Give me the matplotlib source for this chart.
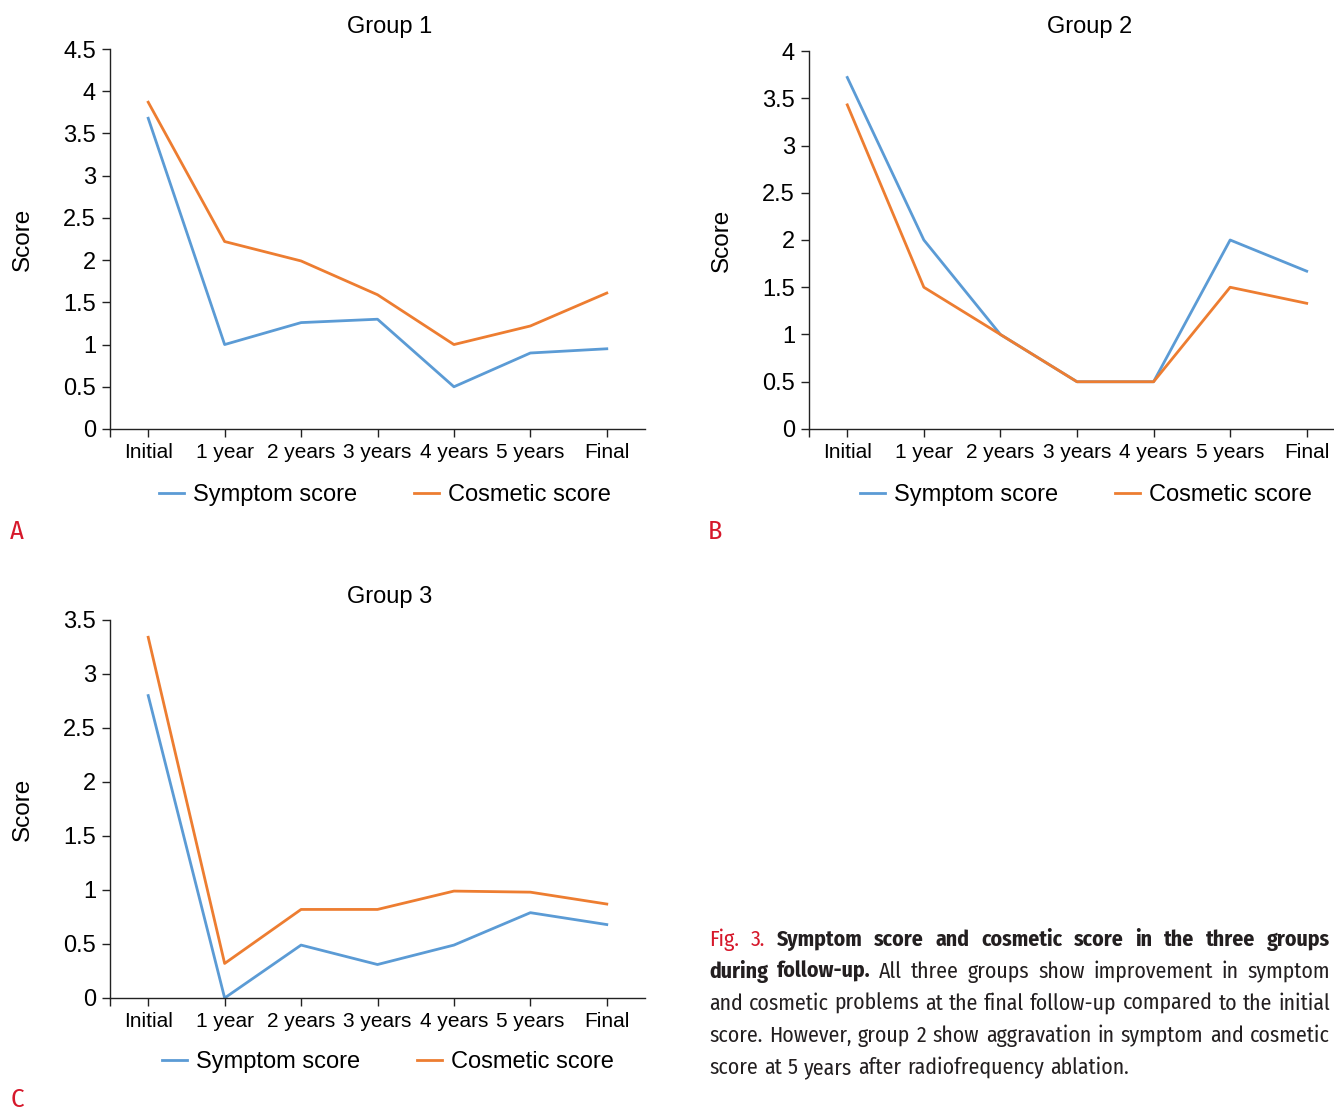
import matplotlib
matplotlib.use("Agg")
import matplotlib.pyplot as plt
from matplotlib import font_manager
import numpy as np

# data
timepoints = ["Initial", "1 year", "2 years", "3 years", "4 years", "5 years", "Final"]

g1_symptom = [3.68, 1.0, 1.26, 1.30, 0.50, 0.90, 0.95]
g1_cosmetic = [3.87, 2.22, 1.99, 1.59, 1.0, 1.22, 1.61]

g2_symptom = [3.72, 2.0, 1.0, 0.5, 0.5, 2.0, 1.67]
g2_cosmetic = [3.43, 1.5, 1.0, 0.5, 0.5, 1.5, 1.33]

g3_symptom = [2.80, 0.0, 0.49, 0.31, 0.49, 0.79, 0.68]
g3_cosmetic = [3.34, 0.32, 0.82, 0.82, 0.99, 0.98, 0.87]

BLUE = "#5b9bd5"
ORANGE = "#ed7d31"
RED = "#d6182b"
INK = "#231f20"

W, H = 1334, 1112
plt.rcParams["font.family"] = ["Liberation Sans", "DejaVu Sans"]

names = {f.name for f in font_manager.fontManager.ttflist}
cond = "Fira Sans Condensed" if "Fira Sans Condensed" in names else "Liberation Sans"

fig = plt.figure(figsize=(W / 100, H / 100), dpi=100)


def px_axes(left, top, right, bottom):
    return fig.add_axes([left / W, 1 - bottom / H, (right - left) / W, (bottom - top) / H])


def panel(ax, sym, cos, ymax, title, title_xy, legend_xy):
    x = np.arange(len(timepoints))
    ax.plot(x, sym, color=BLUE, lw=2.0, label="Symptom score")
    ax.plot(x, cos, color=ORANGE, lw=2.0, label="Cosmetic score")
    ax.set_xlim(-0.5, 6.5)
    ax.set_ylim(0, ymax)
    ax.set_xticks(x)
    ax.set_xticklabels(timepoints, fontsize=15)
    ax.set_xticks([-0.5], minor=True)
    yt = np.arange(0, ymax + 0.01, 0.5)
    ax.set_yticks(yt)
    ax.set_yticklabels(["%g" % v for v in yt], fontsize=17)
    for s in ["top", "right"]:
        ax.spines[s].set_visible(False)
    for s in ["left", "bottom"]:
        ax.spines[s].set_color("#222222")
        ax.spines[s].set_linewidth(1.0)
    ax.tick_params(axis="both", which="both", length=6, width=1.0, color="#222222", pad=4)
    ax.set_ylabel("Score", fontsize=17.5)
    ax.yaxis.set_label_coords(-0.142, 0.5)
    fig.text(title_xy[0] / W, 1 - title_xy[1] / H, title, fontsize=17, ha="center", va="center")
    fig.legend(handles=ax.get_lines(), loc="center", bbox_to_anchor=(legend_xy[0] / W, 1 - legend_xy[1] / H),
               ncol=2, frameon=False, fontsize=17, handlelength=1.05, handletextpad=0.38,
               columnspacing=2.4)


axA = px_axes(110, 49, 645, 429)
panel(axA, g1_symptom, g1_cosmetic, 4.5, "Group 1", (390, 27), (385, 495))

axB = px_axes(809, 51, 1345, 429)
panel(axB, g2_symptom, g2_cosmetic, 4, "Group 2", (1090, 27), (1086, 495))

axC = px_axes(110, 620, 645, 998)
panel(axC, g3_symptom, g3_cosmetic, 3.5, "Group 3", (390, 597), (388, 1062))

# panel letters
for lab, (lx, ly) in {"A": (17, 532), "B": (715, 532), "C": (17, 1100)}.items():
    fig.text(lx / W, 1 - ly / H, lab, color=RED, fontsize=19, family=cond, ha="center", va="center")

# caption, justified like the journal layout
cap_lines = [
    [("Fig. 3.", RED, "normal"), ("Symptom score and cosmetic score in the three groups", INK, "bold")],
    [("during follow-up.", INK, "bold"), ("All three groups show improvement in symptom", INK, "normal")],
    [("and cosmetic problems at the final follow-up compared to the initial", INK, "normal")],
    [("score. However, group 2 show aggravation in symptom and cosmetic", INK, "normal")],
    [("score at 5 years after radiofrequency ablation.", INK, "normal")],
]
cap_baseline = [946, 978, 1010, 1042, 1074]
cap_x0, cap_x1 = 709, 1330

fig.canvas.draw()
renderer = fig.canvas.get_renderer()


def word_widths(words, size):
    out = []
    for w, col, wt in words:
        t = fig.text(0, 0, w, fontsize=size, fontweight=wt, family=cond)
        out.append(t.get_window_extent(renderer).width)
        t.remove()
    return out


def split_words(pieces):
    return [(w, col, wt) for txt, col, wt in pieces for w in txt.split()]


base = 16.0
space = word_widths([("a b", INK, "normal")], base)[0] - 2 * word_widths([("a", INK, "normal")], base)[0]
natural = []
for pieces in cap_lines:
    ww = word_widths(split_words(pieces), base)
    natural.append(sum(ww) + space * (len(ww) - 1))
size = min(base * 443 / natural[-1], base * (cap_x1 - cap_x0) / max(natural))

for i, (pieces, yy) in enumerate(zip(cap_lines, cap_baseline)):
    words = split_words(pieces)
    ww = word_widths(words, size)
    if i < len(cap_lines) - 1:
        gap = (cap_x1 - cap_x0 - sum(ww)) / (len(words) - 1)
    else:
        gap = space * size / base
    xx = cap_x0
    for (w, col, wt), wd in zip(words, ww):
        fig.text(xx / W, 1 - yy / H, w, color=col, fontweight=wt, fontsize=size, family=cond,
                 ha="left", va="baseline")
        xx += wd + gap

fig.savefig("out.png", dpi=100)
